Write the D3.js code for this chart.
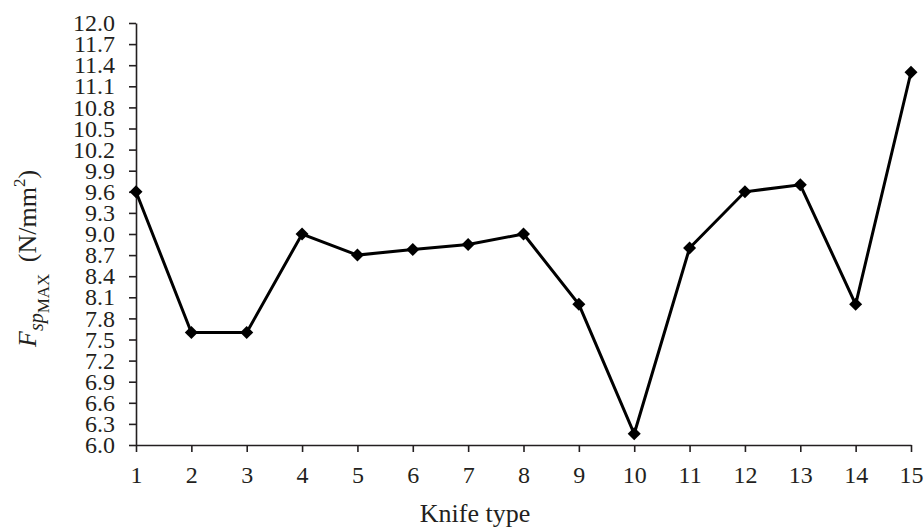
<!DOCTYPE html>
<html><head><meta charset="utf-8">
<script src="https://cdn.jsdelivr.net/npm/d3@7"></script>
<style>
body{margin:0;background:#fff;}
svg text{font-family:"Liberation Serif","Times New Roman",serif;fill:#231f20;}
</style></head>
<body>
<svg id="c" width="924" height="528"></svg>
<script>
const knifeTypes = [1,2,3,4,5,6,7,8,9,10,11,12,13,14,15];
const forceValues = [9.6,7.6,7.6,9.0,8.7,8.78,8.85,9.0,8.0,6.16,8.8,9.6,9.7,8.0,11.3];
const yTicks = [6.0,6.3,6.6,6.9,7.2,7.5,7.8,8.1,8.4,8.7,9.0,9.3,9.6,9.9,10.2,10.5,10.8,11.1,11.4,11.7,12.0];

const svg = d3.select("#c");
const pLeft = 136, pRight = 911, pTop = 23, pBottom = 445;
const x = d3.scaleLinear().domain([1,15]).range([pLeft,pRight]);
const y = d3.scaleLinear().domain([6,12]).range([pBottom,pTop]);

const ya = svg.append("g").attr("transform",`translate(${pLeft},0)`)
  .call(d3.axisLeft(y).tickValues(yTicks).tickFormat(d3.format(".1f")).tickSizeInner(7).tickSizeOuter(0).tickPadding(14));
const xa = svg.append("g").attr("transform",`translate(0,${pBottom})`)
  .call(d3.axisBottom(x).tickValues(knifeTypes).tickFormat(d3.format("d")).tickSizeInner(7).tickSizeOuter(0).tickPadding(14));
[ya,xa].forEach(g=>{
  g.selectAll("path,line").attr("stroke","#231f20").attr("stroke-width",1.6);
  g.selectAll("text").attr("fill","#231f20").style("font-family",'"Liberation Serif",serif');
});
ya.selectAll("text").attr("font-size",24);
xa.selectAll("text").attr("font-size",24);

const line = d3.line().x((d,i)=>x(knifeTypes[i])).y(d=>y(d));
svg.append("path").datum(forceValues).attr("d",line)
  .attr("fill","none").attr("stroke","#000").attr("stroke-width",3).attr("stroke-linejoin","miter");

const sym = d3.symbol(d3.symbolSquare).size(85);
svg.append("g").selectAll("path").data(forceValues).join("path")
  .attr("d",sym)
  .attr("transform",(d,i)=>`translate(${x(knifeTypes[i])},${y(d)}) rotate(45)`)
  .attr("fill","#000");

svg.append("text").attr("x",475).attr("y",522).attr("text-anchor","middle")
  .attr("font-size",26).text("Knife type");

const yl = svg.append("text").attr("transform","translate(36,347) rotate(-90)")
  .attr("text-anchor","start").attr("font-size",26);
yl.append("tspan").attr("font-style","italic").text("F");
yl.append("tspan").attr("font-style","italic").attr("font-size",20).attr("dy",7).text("sp");
yl.append("tspan").attr("font-size",17).attr("dy",6).text("MAX");
yl.append("tspan").attr("dy",-13).attr("dx",5).text("\u00a0(N/mm");
yl.append("tspan").attr("font-size",17).attr("dy",-11).text("2");
yl.append("tspan").attr("dy",11).text(")");
</script>
</body></html>
